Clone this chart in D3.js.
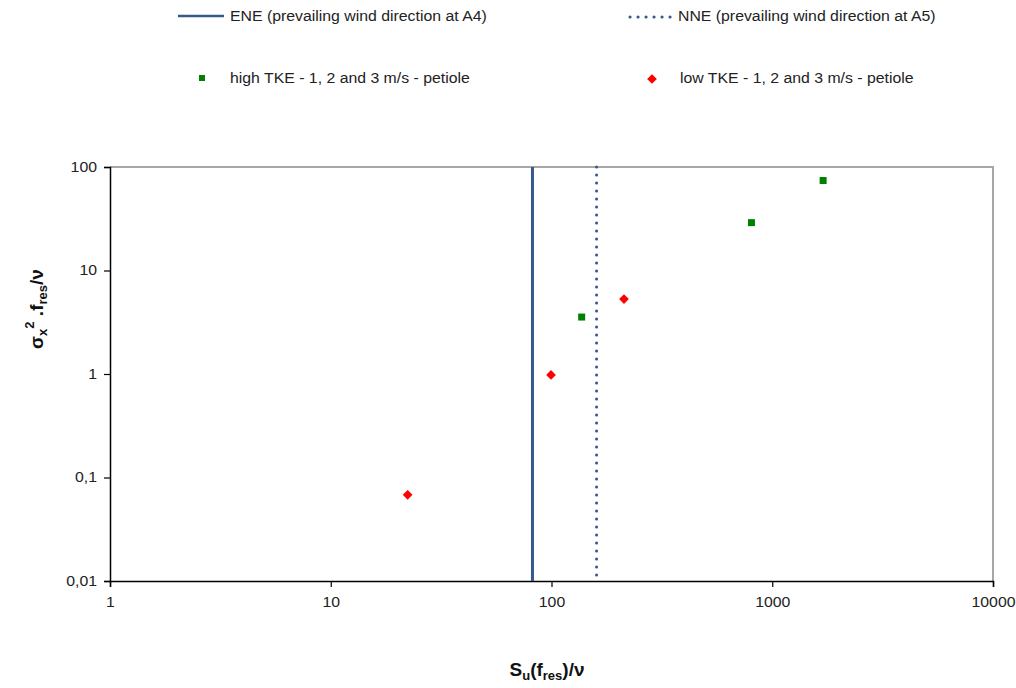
<!DOCTYPE html>
<html>
<head>
<meta charset="utf-8">
<script src="https://cdn.jsdelivr.net/npm/d3@7"></script>
<style>
body{margin:0;background:#fff;}
svg{display:block;font-family:"Liberation Sans",Arial,sans-serif;}
</style>
</head>
<body>
<svg id="chart" width="1016" height="688"></svg>
<script>
// ---- data ----
const xTicks = [1, 10, 100, 1000, 10000];
const yTicks = [0.01, 0.1, 1, 10, 100];
const yTickLabels = ["0,01", "0,1", "1", "10", "100"];
const xTickLabels = ["1", "10", "100", "1000", "10000"];
const refLines = [
  {name: "ENE (prevailing wind direction at A4)", x: 82, dashed: false},
  {name: "NNE (prevailing wind direction at A5)", x: 160, dashed: true}
];
const highName = "high TKE - 1, 2 and 3 m/s - petiole";
const highX = [137, 805, 1700];
const highY = [3.55, 29, 74];
const lowName = "low TKE - 1, 2 and 3 m/s - petiole";
const lowX = [22.3, 99.5, 213];
const lowY = [0.068, 0.98, 5.3];

// ---- layout ----
const svg = d3.select("#chart");
const L = 110, R = 993, T = 167, B = 581;
const x = d3.scaleLog().domain([1, 10000]).range([L, R]);
const y = d3.scaleLog().domain([0.01, 100]).range([B, T]);
const lineColor = "#35598f";
const stretch = 1.13;
function widen(sel) {
  sel.each(function() {
    const w = this.getComputedTextLength();
    d3.select(this).attr("textLength", w * stretch).attr("lengthAdjust", "spacingAndGlyphs");
  });
}

// plot border (top/right gray)
svg.append("path")
  .attr("d", `M${L},${T}H${R}V${B}`)
  .attr("fill", "none").attr("stroke", "#a6a6a6").attr("stroke-width", 2);

// axes
const xAxis = d3.axisBottom(x).tickValues(xTicks).tickSize(6).tickPadding(10)
  .tickFormat((d, i) => xTickLabels[i]);
const gx = svg.append("g").attr("transform", `translate(0,${B})`).call(xAxis);
const yAxis = d3.axisLeft(y).tickValues(yTicks).tickSize(6).tickPadding(7)
  .tickFormat((d, i) => yTickLabels[i]);
const gy = svg.append("g").attr("transform", `translate(${L},0)`).call(yAxis);
[gx, gy].forEach(g => {
  g.attr("font-size", 14);
  g.select(".domain").attr("stroke", "#000").attr("stroke-width", 1.5);
  g.selectAll(".tick line").attr("stroke", "#000").attr("stroke-width", 1.2);
  g.selectAll(".tick text").attr("font-size", 14).attr("fill", "#222")
    .attr("font-family", "'Liberation Sans',Arial,sans-serif").call(widen);
});

// reference lines
refLines.forEach(r => {
  svg.append("line")
    .attr("x1", x(r.x)).attr("x2", x(r.x))
    .attr("y1", T).attr("y2", B)
    .attr("stroke", lineColor).attr("stroke-width", 3)
    .attr("stroke-dasharray", r.dashed ? "0.1 7.9" : null)
    .attr("stroke-linecap", r.dashed ? "round" : "butt");
});

// markers
const diamond = d3.symbol().type(d3.symbolDiamond2).size(60);
svg.append("g").selectAll("path").data(lowX.map((v, i) => [v, lowY[i]]))
  .join("path")
  .attr("transform", d => `translate(${x(d[0])},${y(d[1])})`)
  .attr("d", diamond).attr("fill", "#ff0000");
svg.append("g").selectAll("rect").data(highX.map((v, i) => [v, highY[i]]))
  .join("rect")
  .attr("x", d => x(d[0]) - 3.5).attr("y", d => y(d[1]) - 3.5)
  .attr("width", 7).attr("height", 7).attr("fill", "#008000");

// legend
const lg = svg.append("g").attr("font-size", 14).attr("fill", "#222");
lg.append("line").attr("x1", 178).attr("x2", 224).attr("y1", 16).attr("y2", 16)
  .attr("stroke", lineColor).attr("stroke-width", 2.5);
lg.append("text").attr("x", 230).attr("y", 21).text(refLines[0].name);
lg.append("line").attr("x1", 630).attr("x2", 672).attr("y1", 17).attr("y2", 17)
  .attr("stroke", lineColor).attr("stroke-width", 3)
  .attr("stroke-dasharray", "0.1 7.9").attr("stroke-linecap", "round");
lg.append("text").attr("x", 678).attr("y", 21).text(refLines[1].name);
lg.append("rect").attr("x", 199).attr("y", 75).attr("width", 6).attr("height", 6).attr("fill", "#008000");
lg.append("text").attr("x", 230).attr("y", 83).text(highName);
lg.append("path").attr("transform", "translate(652,79)").attr("d", diamond).attr("fill", "#ff0000");
lg.append("text").attr("x", 680).attr("y", 83).text(lowName);
lg.selectAll("text").call(widen);

// axis titles
const xt = svg.append("text").attr("x", 547).attr("y", 676)
  .attr("text-anchor", "middle").attr("font-size", 19).attr("font-weight", "bold").attr("fill", "#111");
xt.append("tspan").text("S");
xt.append("tspan").attr("dy", 4).attr("font-size", 13).text("u");
xt.append("tspan").attr("dy", -4).text("(f");
xt.append("tspan").attr("dy", 4).attr("font-size", 13).text("res");
xt.append("tspan").attr("dy", -4).text(")/ν");

const yt = svg.append("text").attr("transform", "translate(43,309) rotate(-90)")
  .attr("text-anchor", "middle").attr("font-size", 19).attr("font-weight", "bold").attr("fill", "#111");
yt.append("tspan").text("σ");
yt.append("tspan").attr("dy", 4).attr("font-size", 13).text("x");
yt.append("tspan").attr("dy", -13).attr("font-size", 13).text("2");
yt.append("tspan").attr("dy", 9).text(" .f");
yt.append("tspan").attr("dy", 4).attr("font-size", 13).text("res");
yt.append("tspan").attr("dy", -4).text("/ν");
</script>
</body>
</html>
